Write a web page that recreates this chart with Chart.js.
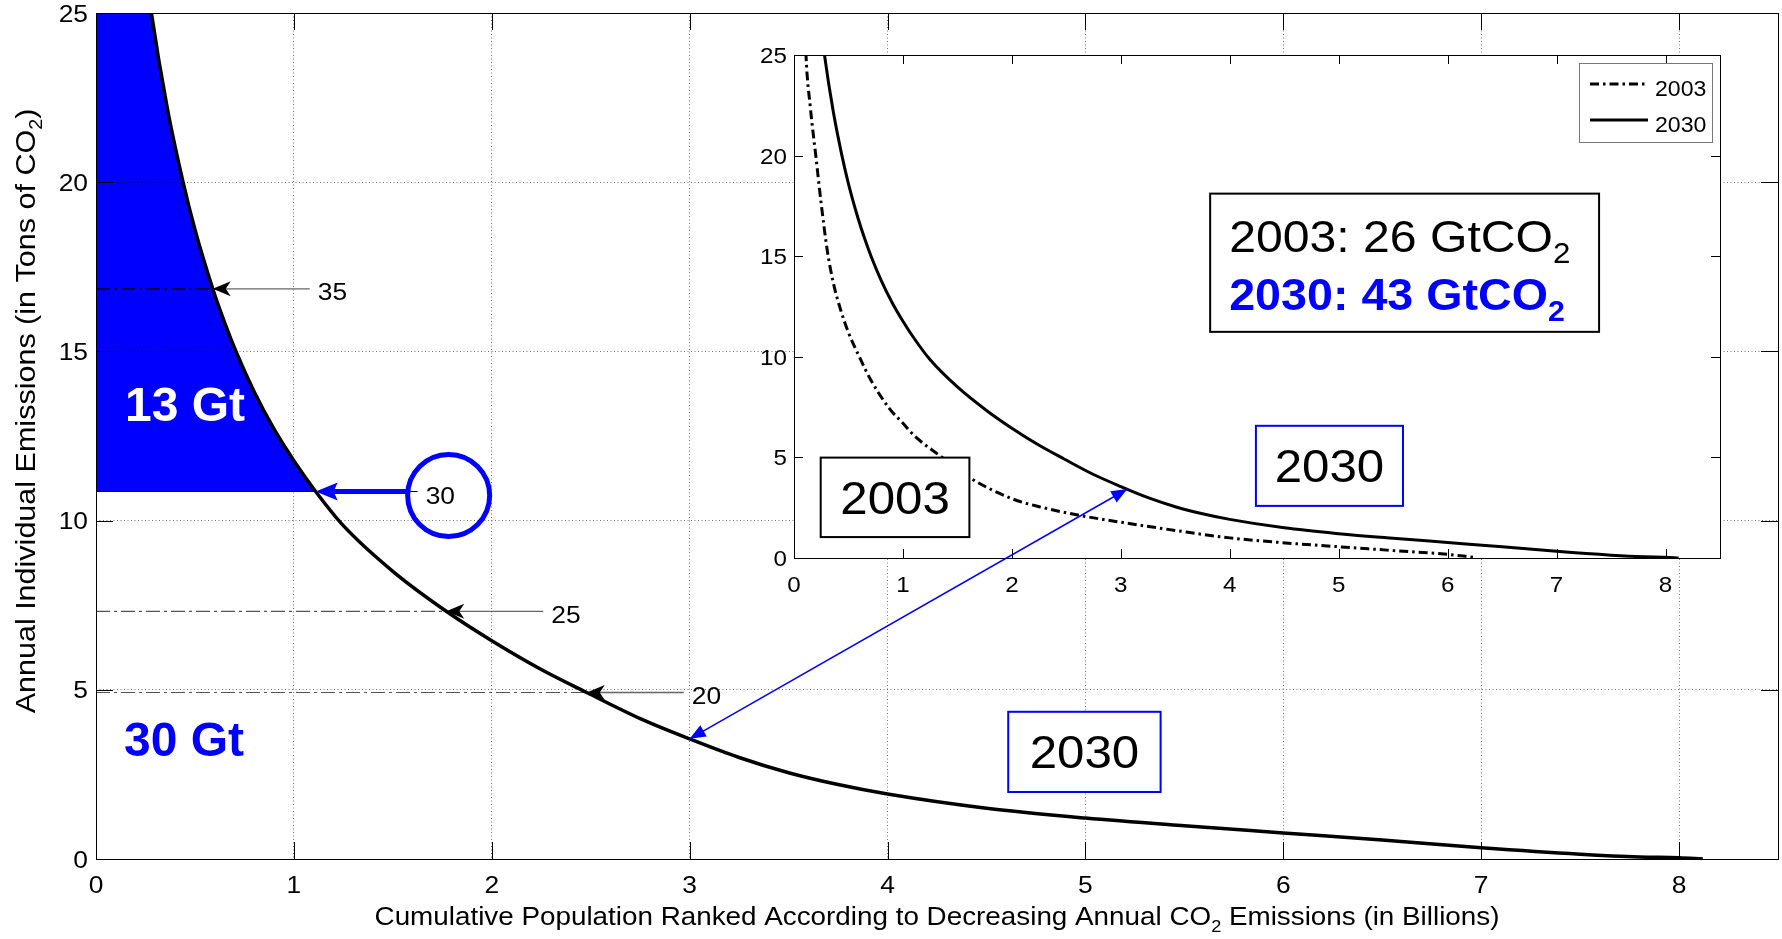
<!DOCTYPE html>
<html>
<head>
<meta charset="utf-8">
<title>Annual individual CO2 emissions</title>
<script src="https://cdn.jsdelivr.net/npm/chart.js@4.4.0/dist/chart.umd.min.js"></script>
<style>
  html, body { margin: 0; padding: 0; background: #fff; }
  #wrap { position: relative; width: 1782px; height: 939px; }
  #wrap canvas { position: absolute; left: 0; top: 0; }
</style>
</head>
<body>
<div id="wrap">
  <canvas id="mainChart" width="1782" height="939"></canvas>
  <canvas id="insetChart" width="1782" height="939"></canvas>
</div>
<script>
// ---- data (population in billions, emissions in t CO2 per person) ----
const pop2030 = [0.20, 0.28, 0.36, 0.44, 0.50, 0.59, 0.65, 0.71, 0.80, 0.90,
                 1.00, 1.11, 1.25, 1.50, 1.77, 2.00, 2.25, 2.48, 2.75, 3.00,
                 3.25, 3.50, 3.75, 4.00, 4.50, 5.00, 5.50, 6.00, 6.50, 7.00,
                 7.50, 7.80, 8.00, 8.12];
const emis2030 = [28.6, 25.0, 22.2, 20.0, 18.6, 16.85, 15.85, 14.96, 13.8, 12.7,
                  11.77, 10.86, 9.85, 8.5, 7.32, 6.45, 5.6, 4.92, 4.15, 3.55,
                  3.0, 2.55, 2.2, 1.92, 1.5, 1.21, 0.98, 0.77, 0.56, 0.33,
                  0.14, 0.06, 0.04, 0.0];

const pop2003 = [0.08, 0.11, 0.15, 0.20, 0.25, 0.305, 0.36, 0.43, 0.50, 0.60,
                 0.70, 0.88, 1.00, 1.10, 1.36, 1.61, 2.00, 2.25, 2.65, 3.00,
                 3.50, 4.00, 4.44, 5.00, 5.50, 6.00, 6.25];
const emis2003 = [30.0, 25.0, 22.4, 20.0, 17.6, 15.3, 13.7, 12.3, 11.2, 10.0,
                  8.9, 7.4, 6.7, 6.1, 5.0, 4.0, 2.95, 2.55, 2.09, 1.78,
                  1.37, 1.0, 0.78, 0.56, 0.37, 0.18, 0.03];

const xTicks = [0, 1, 2, 3, 4, 5, 6, 7, 8];
const xTickLabels = ['0', '1', '2', '3', '4', '5', '6', '7', '8'];
const yTicks = [0, 5, 10, 15, 20, 25];
const yTickLabels = ['0', '5', '10', '15', '20', '25'];

// emission thresholds (Gt) marked on the 2030 curve
const contourNames = ['35', '25', '20'];
const contourX = [0.59, 1.77, 2.48];
const contourY = [16.85, 7.32, 4.92];
const capName = '30';
const capX = 1.11;
const capY = 10.86;

const seriesNames = ['2003', '2030'];
const totalNames = ['2003: 26 GtCO', '2030: 43 GtCO'];
const areaNames = ['13 Gt', '30 Gt'];

// ---- helpers ----
const FONT = '"Liberation Sans", Arial, Helvetica, sans-serif';
const BLUE = '#0000ff';
const pts = (xs, ys) => xs.map((x, i) => ({ x: x, y: ys[i] }));
const txt = s => [{ t: s }];

function partsWidth(ctx, parts, size, weight) {
  let w = 0;
  parts.forEach(p => {
    ctx.font = weight + ' ' + (p.sub ? size * 0.65 : size) + 'px ' + FONT;
    w += ctx.measureText(p.t).width;
  });
  return w;
}

// text with optional subscripts, y is the baseline (or the middle with o.middle)
function richText(ctx, parts, x, y, o) {
  const size = o.size, weight = o.weight || 'normal';
  const w = partsWidth(ctx, parts, size, weight);
  ctx.save();
  ctx.translate(x, y);
  if (o.rotate) ctx.rotate(o.rotate);
  ctx.scale(o.stretch || 1, 1);
  let cx = o.align === 'center' ? -w / 2 : (o.align === 'right' ? -w : 0);
  const dy = o.middle ? size * 0.36 : 0;
  ctx.fillStyle = o.color || '#000';
  ctx.textAlign = 'left';
  ctx.textBaseline = 'alphabetic';
  parts.forEach(p => {
    ctx.font = weight + ' ' + (p.sub ? size * 0.65 : size) + 'px ' + FONT;
    ctx.fillText(p.t, cx, dy + (p.sub ? size * 0.25 : 0));
    cx += ctx.measureText(p.t).width;
  });
  ctx.restore();
}

function arrowHead(ctx, tip, from, len, half, notch, color) {
  const ang = Math.atan2(tip.y - from.y, tip.x - from.x);
  ctx.save();
  ctx.translate(tip.x, tip.y);
  ctx.rotate(ang);
  ctx.beginPath();
  ctx.moveTo(0, 0);
  ctx.lineTo(-len, -half);
  ctx.lineTo(-len + notch, 0);
  ctx.lineTo(-len, half);
  ctx.closePath();
  ctx.fillStyle = color;
  ctx.fill();
  ctx.restore();
}

function line(ctx, x0, y0, x1, y1, color, width, dash) {
  ctx.save();
  ctx.strokeStyle = color;
  ctx.lineWidth = width;
  ctx.setLineDash(dash || []);
  ctx.beginPath();
  ctx.moveTo(x0, y0);
  ctx.lineTo(x1, y1);
  ctx.stroke();
  ctx.restore();
}

function boxAndTicks(ctx, chart, len) {
  const a = chart.chartArea, xs = chart.scales.x, ys = chart.scales.y;
  ctx.save();
  ctx.strokeStyle = '#000';
  ctx.lineWidth = 1;
  ctx.beginPath();
  xTicks.forEach(v => {
    const px = Math.round(xs.getPixelForValue(v)) + 0.5;
    ctx.moveTo(px, a.bottom); ctx.lineTo(px, a.bottom - len);
    ctx.moveTo(px, a.top); ctx.lineTo(px, a.top + len);
  });
  yTicks.forEach(v => {
    const py = Math.round(ys.getPixelForValue(v)) + 0.5;
    ctx.moveTo(a.left, py); ctx.lineTo(a.left + len, py);
    ctx.moveTo(a.right, py); ctx.lineTo(a.right - len, py);
  });
  ctx.stroke();
  ctx.strokeRect(Math.round(a.left) + 0.5, Math.round(a.top) + 0.5,
                 Math.round(a.right - a.left), Math.round(a.bottom - a.top));
  ctx.restore();
}

function tickLabels(ctx, chart, o) {
  const a = chart.chartArea, xs = chart.scales.x, ys = chart.scales.y;
  xTicks.forEach((v, i) => richText(ctx, txt(xTickLabels[i]), xs.getPixelForValue(v), a.bottom + o.xGap,
    { size: o.size, align: 'center', middle: true, stretch: o.stretch }));
  yTicks.forEach((v, i) => richText(ctx, txt(yTickLabels[i]), a.left - o.yGap, ys.getPixelForValue(v),
    { size: o.size, align: 'right', middle: true, stretch: o.stretch }));
}

function textBox(ctx, x0, y0, x1, y1, color, label) {
  ctx.save();
  ctx.fillStyle = '#fff';
  ctx.fillRect(x0, y0, x1 - x0, y1 - y0);
  ctx.strokeStyle = color;
  ctx.lineWidth = 2;
  ctx.strokeRect(x0, y0, x1 - x0, y1 - y0);
  ctx.restore();
  richText(ctx, txt(label), (x0 + x1) / 2, (y0 + y1) / 2,
    { size: 46, align: 'center', middle: true, stretch: 1.07 });
}

// ---- main chart ----
const curve2030 = pts(pop2030, emis2030);
// blue region above the 30 Gt threshold, closed along the left axis
const capArea = [{ x: 0, y: capY }, { x: 0, y: emis2030[0] }]
  .concat(curve2030.filter(p => p.y >= capY))
  .concat([{ x: 0, y: capY }]);

const leaderSets = contourNames.map((n, i) => ({
  label: 'level ' + n,
  data: [{ x: 0, y: contourY[i] }, { x: contourX[i], y: contourY[i] }],
  showLine: true, pointRadius: 0, fill: false,
  borderColor: i === 0 ? '#000' : '#555', borderWidth: 1.2, borderDash: [14, 4, 3, 4]
}));

const mainDecor = {
  id: 'mainDecor',
  beforeDraw(chart) {
    const ctx = chart.ctx;
    ctx.save();
    ctx.fillStyle = '#fff';
    ctx.fillRect(0, 0, chart.width, chart.height);
    ctx.restore();
  },
  afterDraw(chart) {
    const ctx = chart.ctx, a = chart.chartArea, xs = chart.scales.x, ys = chart.scales.y;
    const P = (x, y) => ({ x: xs.getPixelForValue(x), y: ys.getPixelForValue(y) });

    boxAndTicks(ctx, chart, 17);
    tickLabels(ctx, chart, { size: 24, stretch: 1.1, xGap: 25, yGap: 8 });

    richText(ctx, [{ t: 'Cumulative Population Ranked According to Decreasing Annual CO' }, { t: '2', sub: true },
      { t: ' Emissions (in Billions)' }], (a.left + a.right) / 2, 925, { size: 26, align: 'center', stretch: 1.07 });
    richText(ctx, [{ t: 'Annual Individual Emissions (in Tons of CO' }, { t: '2', sub: true }, { t: ')' }],
      25, 411, { size: 28, align: 'center', middle: true, rotate: -Math.PI / 2, stretch: 1.09 });

    // contour arrows 35 / 25 / 20
    contourNames.forEach((n, i) => {
      const tip = P(contourX[i], contourY[i]);
      const tail = { x: tip.x + 97, y: tip.y };
      line(ctx, tail.x, tail.y, tip.x + 8, tip.y, '#666', 1.3);
      arrowHead(ctx, tip, tail, 18, 7.5, 5, '#000');
      richText(ctx, txt(n), tail.x + 8, tip.y + 3, { size: 24, middle: true, stretch: 1.1 });
    });

    // 30 Gt threshold: circled label with a thick blue arrow
    const cap = P(capX, capY);
    line(ctx, cap.x + 92, cap.y, cap.x + 102, cap.y, '#000', 1);
    line(ctx, cap.x + 92, cap.y, cap.x + 16, cap.y, BLUE, 5);
    arrowHead(ctx, cap, { x: cap.x + 92, y: cap.y }, 22, 9, 4, BLUE);
    richText(ctx, txt(capName), cap.x + 110, cap.y + 4, { size: 24, middle: true, stretch: 1.1 });
    ctx.save();
    ctx.strokeStyle = BLUE;
    ctx.lineWidth = 5;
    ctx.beginPath();
    ctx.arc(cap.x + 133, cap.y + 4, 41, 0, Math.PI * 2);
    ctx.stroke();
    ctx.restore();

    // area totals
    const t1 = P(0.45, 13.46), t2 = P(0.445, 3.55);
    richText(ctx, txt(areaNames[0]), t1.x, t1.y, { size: 48, weight: 'bold', align: 'center', middle: true, color: '#fff' });
    richText(ctx, txt(areaNames[1]), t2.x, t2.y, { size: 48, weight: 'bold', align: 'center', middle: true, color: BLUE });

    // series label box
    const b0 = P(4.61, 4.35), b1 = P(5.38, 1.98);
    textBox(ctx, b0.x, b0.y, b1.x, b1.y, BLUE, seriesNames[1]);
  }
};

const mainChart = new Chart(document.getElementById('mainChart'), {
  type: 'scatter',
  data: {
    datasets: [
      { label: seriesNames[1], data: curve2030, showLine: true, pointRadius: 0, fill: false,
        borderColor: '#000', borderWidth: 3.5, cubicInterpolationMode: 'monotone' },
      ...leaderSets,
      { label: areaNames[0], data: capArea, showLine: true, pointRadius: 0, fill: 'shape',
        borderColor: '#000', borderWidth: 1, backgroundColor: BLUE }
    ]
  },
  options: {
    responsive: false,
    animation: false,
    events: [],
    layout: { padding: { left: 0, top: 13, right: 4, bottom: 0 } },
    plugins: { legend: { display: false }, tooltip: { enabled: false } },
    scales: {
      x: {
        type: 'linear', min: 0, max: 8.5,
        afterBuildTicks: s => { s.ticks = xTicks.map(v => ({ value: v })); },
        afterFit: s => { s.height = 80; },
        ticks: { display: false },
        grid: { color: 'rgba(0,0,0,0.55)', drawTicks: false, z: 1 },
        border: { display: false, dash: [1, 2.5] }
      },
      y: {
        type: 'linear', min: 0, max: 25,
        afterBuildTicks: s => { s.ticks = yTicks.map(v => ({ value: v })); },
        afterFit: s => { s.width = 96; },
        ticks: { display: false },
        grid: { color: 'rgba(0,0,0,0.55)', drawTicks: false, z: 1 },
        border: { display: false, dash: [1, 2.5] }
      }
    }
  },
  plugins: [mainDecor]
});

// ---- inset: 2003 vs 2030 ----
const insetDecor = {
  id: 'insetDecor',
  beforeDraw(chart) {
    const ctx = chart.ctx, a = chart.chartArea;
    ctx.save();
    ctx.fillStyle = '#fff';
    ctx.fillRect(a.left, a.top, a.right - a.left, a.bottom - a.top);
    ctx.restore();
  },
  afterDraw(chart) {
    const ctx = chart.ctx, a = chart.chartArea, xs = chart.scales.x, ys = chart.scales.y;
    const P = (x, y) => ({ x: xs.getPixelForValue(x), y: ys.getPixelForValue(y) });

    boxAndTicks(ctx, chart, 9);
    tickLabels(ctx, chart, { size: 22, stretch: 1.1, xGap: 26, yGap: 7 });

    // legend
    const lx = a.right - 141, ly = a.top + 8;
    ctx.save();
    ctx.fillStyle = '#fff';
    ctx.fillRect(lx, ly, 133, 79);
    ctx.strokeStyle = '#777';
    ctx.lineWidth = 1;
    ctx.strokeRect(lx + 0.5, ly + 0.5, 133, 79);
    ctx.restore();
    chart.data.datasets.forEach((d, i) => {
      const yy = ly + 21 + i * 36;
      line(ctx, lx + 11, yy, lx + 69, yy, d.borderColor, d.borderWidth, d.borderDash);
      richText(ctx, txt(d.label), lx + 76, yy + 12, { size: 22, stretch: 1.05 });
    });

    // totals box
    const q0 = P(3.82, 18.11), q1 = P(7.39, 11.24);
    ctx.save();
    ctx.fillStyle = '#fff';
    ctx.fillRect(q0.x, q0.y, q1.x - q0.x, q1.y - q0.y);
    ctx.strokeStyle = '#000';
    ctx.lineWidth = 2;
    ctx.strokeRect(q0.x, q0.y, q1.x - q0.x, q1.y - q0.y);
    ctx.restore();
    richText(ctx, [{ t: totalNames[0] }, { t: '2', sub: true }], q0.x + 19, q0.y + 58, { size: 45, stretch: 1.07 });
    richText(ctx, [{ t: totalNames[1] }, { t: '2', sub: true }], q0.x + 19, q0.y + 116,
      { size: 44, weight: 'bold', stretch: 1.06, color: BLUE });

    // series label boxes
    const s0 = P(0.245, 4.99), s1 = P(1.61, 1.04);
    textBox(ctx, s0.x, s0.y, s1.x, s1.y, '#000', seriesNames[0]);
    const r0 = P(4.24, 6.57), r1 = P(5.59, 2.59);
    textBox(ctx, r0.x, r0.y, r1.x, r1.y, BLUE, seriesNames[1]);

    // link from the main curve at 3 billion people to the inset curve
    const m = { x: mainChart.scales.x.getPixelForValue(3.0), y: mainChart.scales.y.getPixelForValue(3.55) };
    const n = P(3.06, 3.43);
    line(ctx, m.x, m.y, n.x, n.y, BLUE, 1.5);
    arrowHead(ctx, m, n, 16, 6.5, 0, BLUE);
    arrowHead(ctx, n, m, 16, 6.5, 0, BLUE);
  }
};

new Chart(document.getElementById('insetChart'), {
  type: 'scatter',
  data: {
    datasets: [
      { label: seriesNames[0], data: pts(pop2003, emis2003), showLine: true, pointRadius: 0, fill: false,
        borderColor: '#000', borderWidth: 3, borderDash: [9, 4, 2.5, 4], cubicInterpolationMode: 'monotone' },
      { label: seriesNames[1], data: curve2030, showLine: true, pointRadius: 0, fill: false,
        borderColor: '#000', borderWidth: 3, cubicInterpolationMode: 'monotone' }
    ]
  },
  options: {
    responsive: false,
    animation: false,
    events: [],
    layout: { padding: { left: 774, top: 55, right: 62, bottom: 361 } },
    plugins: { legend: { display: false }, tooltip: { enabled: false } },
    scales: {
      x: {
        type: 'linear', min: 0, max: 8.5,
        afterBuildTicks: s => { s.ticks = xTicks.map(v => ({ value: v })); },
        afterFit: s => { s.height = 20; },
        ticks: { display: false }, grid: { display: false }, border: { display: false }
      },
      y: {
        type: 'linear', min: 0, max: 25,
        afterBuildTicks: s => { s.ticks = yTicks.map(v => ({ value: v })); },
        afterFit: s => { s.width = 20; },
        ticks: { display: false }, grid: { display: false }, border: { display: false }
      }
    }
  },
  plugins: [insetDecor]
});
</script>
</body>
</html>
